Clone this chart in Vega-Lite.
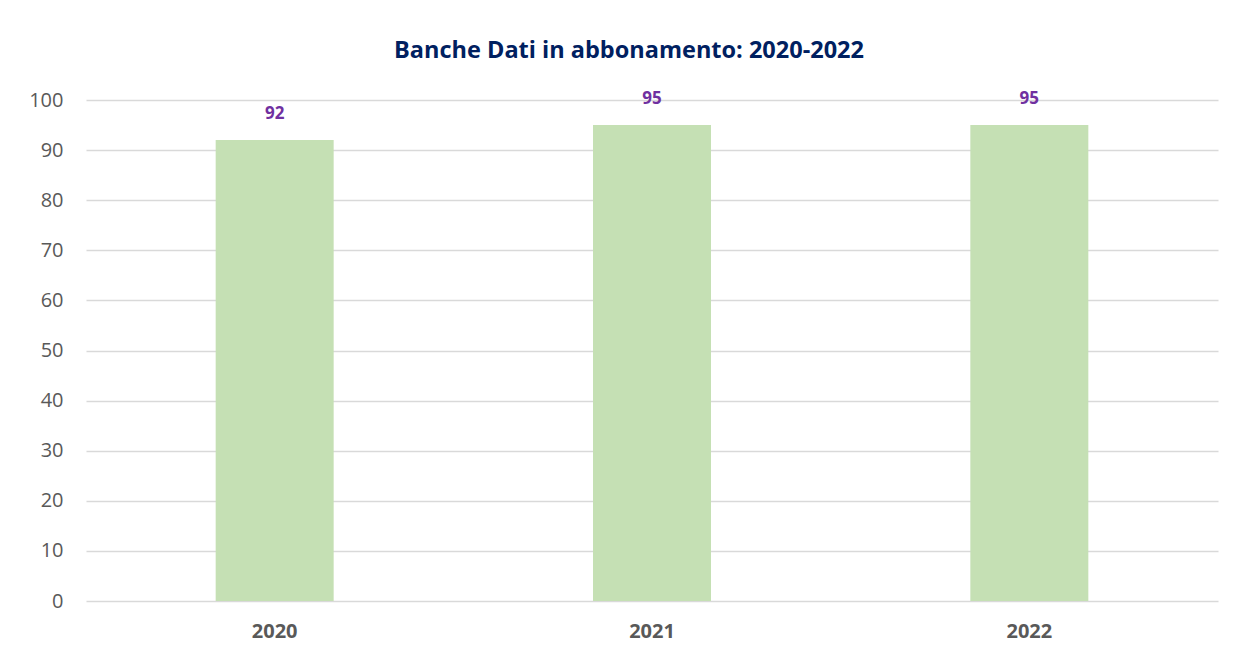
{
  "$schema": "https://vega.github.io/schema/vega-lite/v6.json",
  "width": 1132,
  "height": 501,
  "autosize": {"type": "none"},
  "padding": {"left": 86, "top": 100, "right": 18, "bottom": 52},
  "background": "white",
  "title": {
    "text": "Banche Dati in abbonamento: 2020-2022",
    "font": "Open Sans",
    "fontSize": 23.5,
    "fontWeight": "bold",
    "color": "#002060",
    "anchor": "middle",
    "dx": -23,
    "offset": 28
  },
  "data": {
    "values": [
      {"anno": "2020", "valore": 92},
      {"anno": "2021", "valore": 95},
      {"anno": "2022", "valore": 95}
    ]
  },
  "config": {
    "view": {"stroke": null},
    "axis": {"labelFont": "Open Sans", "labelColor": "#595959", "titleFont": "Open Sans"}
  },
  "encoding": {
    "x": {
      "field": "anno",
      "type": "nominal",
      "scale": {"paddingInner": 0, "paddingOuter": 0},
      "axis": {
        "title": null,
        "labelAngle": 0,
        "labelFontSize": 20,
        "labelFontWeight": "bold",
        "labelPadding": 20,
        "ticks": false,
        "domain": false
      }
    },
    "y": {
      "field": "valore",
      "type": "quantitative",
      "scale": {"domain": [0, 100], "nice": false},
      "axis": {
        "title": null,
        "values": [0, 10, 20, 30, 40, 50, 60, 70, 80, 90, 100],
        "labelFontSize": 20,
        "labelPadding": 23,
        "ticks": false,
        "domain": false,
        "grid": true,
        "gridColor": "#d9d9d9",
        "gridWidth": 1.5
      }
    }
  },
  "layer": [
    {
      "mark": {"type": "bar", "color": "#c5e0b4", "width": {"band": 0.3127}}
    },
    {
      "mark": {
        "type": "text",
        "font": "Open Sans",
        "fontSize": 17,
        "fontWeight": "bold",
        "color": "#7030a0",
        "baseline": "alphabetic",
        "dy": -21
      },
      "encoding": {"text": {"field": "valore", "type": "quantitative"}}
    }
  ]
}
